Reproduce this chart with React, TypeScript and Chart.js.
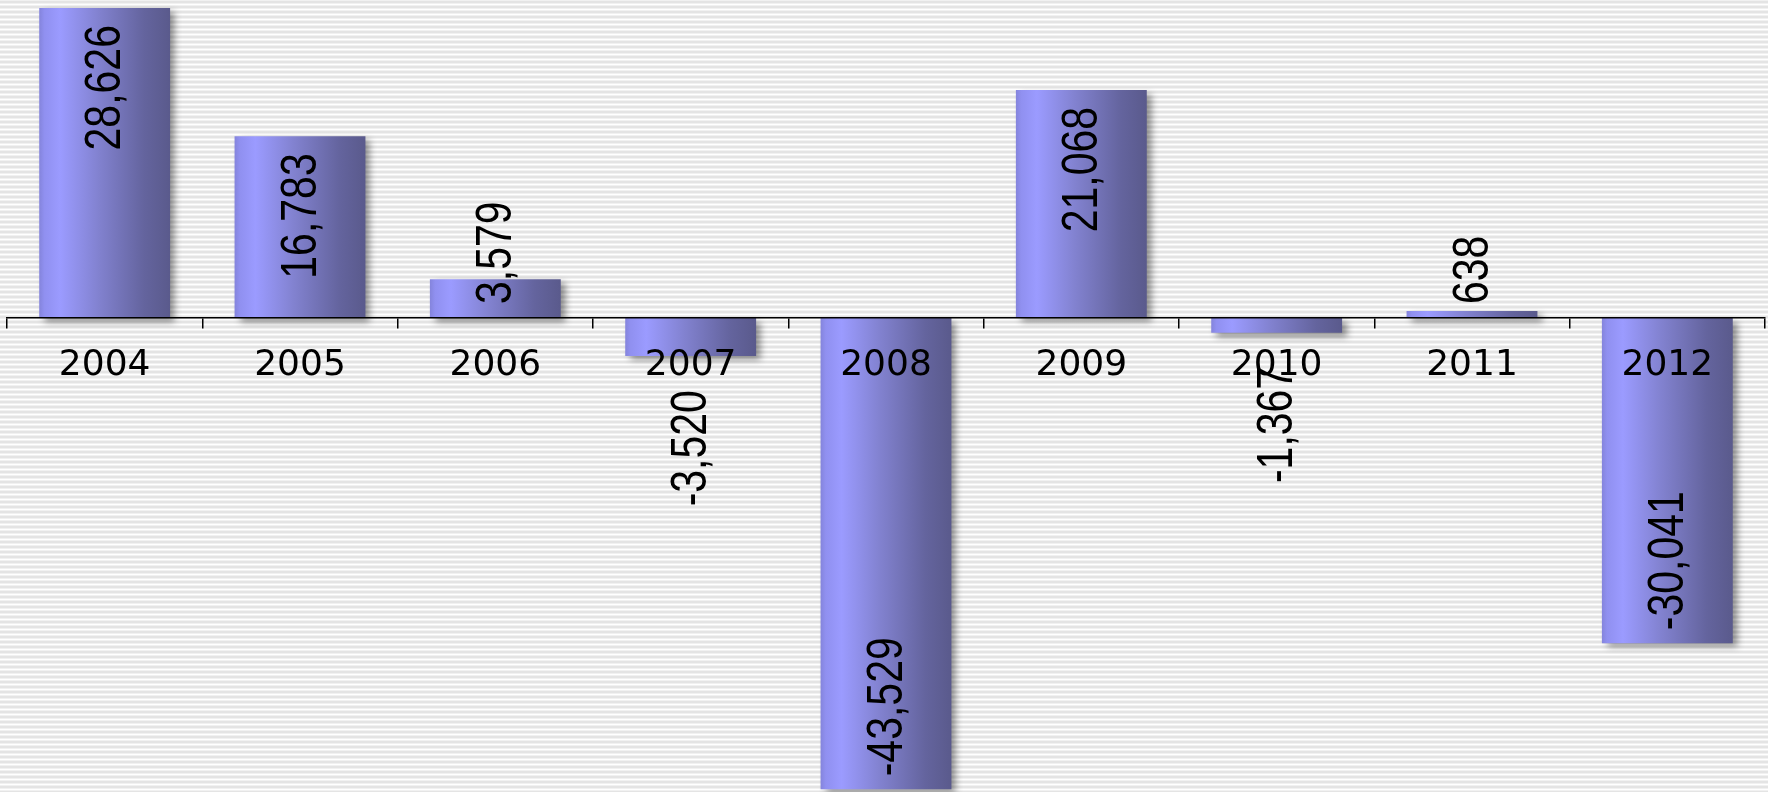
import React, { useEffect, useRef } from "react";
import { Chart, registerables } from "chart.js";

Chart.register(...registerables);

const categories = ["2004", "2005", "2006", "2007", "2008", "2009", "2010", "2011", "2012"];
const values = [28626, 16783, 3579, -3520, -43529, 21068, -1367, 638, -30041];
const yMin = -43780;
const yMax = 29370;

const stripePlugin = {
  id: "stripes",
  beforeDraw(chart: any) {
    const { ctx, width, height } = chart;
    ctx.save();
    ctx.fillStyle = "#ffffff";
    ctx.fillRect(0, 0, width, height);
    for (let y = 0; y < height; y += 5) {
      ctx.fillStyle = "#e4e4e4";
      ctx.fillRect(0, y + 1, width, 2);
      ctx.fillStyle = "#f1f1f1";
      ctx.fillRect(0, y, width, 1);
      ctx.fillRect(0, y + 3, width, 1);
    }
    ctx.restore();
  },
};

const shadowPlugin = {
  id: "barShadow",
  beforeDatasetDraw(chart: any) {
    const ctx = chart.ctx;
    ctx.save();
    ctx.shadowColor = "rgba(0,0,0,0.42)";
    ctx.shadowBlur = 7;
    ctx.shadowOffsetX = 5;
    ctx.shadowOffsetY = 4;
  },
  afterDatasetDraw(chart: any) {
    chart.ctx.restore();
  },
};

const labelPlugin = {
  id: "valueLabels",
  afterDraw(chart: any) {
    const ctx = chart.ctx;
    const meta = chart.getDatasetMeta(0);
    const zero = chart.scales.y.getPixelForValue(0);
    ctx.save();
    ctx.font = '41px "Liberation Sans", Arial, sans-serif';
    ctx.fillStyle = "#000000";
    ctx.textBaseline = "middle";
    meta.data.forEach((bar: any, i: number) => {
      const v = values[i];
      const text = v.toLocaleString("en-US");
      const len = ctx.measureText(text).width;
      const barLen = Math.abs(bar.base - bar.y);
      const fits = barLen >= len + 30;
      let anchorY: number;
      let align: CanvasTextAlign;
      if (v >= 0) {
        if (fits) {
          anchorY = bar.y + 17;
          align = "right";
        } else {
          anchorY = zero - 14;
          align = "left";
        }
      } else {
        if (fits) {
          anchorY = bar.y - 13;
          align = "left";
        } else {
          anchorY = bar.y + 34;
          align = "right";
        }
      }
      ctx.save();
      ctx.translate(bar.x + 2, anchorY);
      ctx.rotate(-Math.PI / 2);
      ctx.scale(1, 1.2);
      ctx.textAlign = align;
      ctx.fillText(text, 0, 0);
      ctx.restore();
    });
    ctx.restore();
  },
};

const barFrac = 0.67;

function barGradient(c: any) {
  const ch = c.chart;
  const xs = ch.scales && ch.scales.x;
  if (!xs || c.type !== "data") return "#8080d0";
  const cx = xs.getPixelForValue(c.dataIndex);
  const w = (xs.width / categories.length) * barFrac;
  const x0 = cx - w / 2;
  if (!isFinite(x0) || !isFinite(w) || w <= 0) return "#8080d0";
  const g = ch.ctx.createLinearGradient(x0, 0, x0 + w, 0);
  g.addColorStop(0, "#8484dc");
  g.addColorStop(0.04, "#9090f0");
  g.addColorStop(0.16, "#9b9bff");
  g.addColorStop(0.45, "#8282d0");
  g.addColorStop(0.8, "#64649e");
  g.addColorStop(1, "#5a5a8c");
  return g;
}

export default function App() {
  const ref = useRef<HTMLCanvasElement | null>(null);

  useEffect(() => {
    if (!ref.current) return;
    const chart = new Chart(ref.current, {
      type: "bar",
      data: {
        labels: categories,
        datasets: [
          {
            data: values,
            backgroundColor: barGradient,
            borderWidth: 0,
            barPercentage: 1,
            categoryPercentage: barFrac,
          },
        ],
      },
      options: {
        animation: false,
        responsive: false,
        maintainAspectRatio: false,
        devicePixelRatio: 1,
        layout: { padding: { left: 7, right: 3, top: 0, bottom: 0 } },
        plugins: {
          legend: { display: false },
          tooltip: { enabled: false },
          title: { display: false },
        },
        scales: {
          x: {
            position: { y: 0 } as any,
            offset: true,
            grid: {
              display: true,
              offset: true,
              drawOnChartArea: false,
              drawTicks: true,
              tickLength: 10,
              color: "#000000",
              lineWidth: 1.5,
              z: 1,
            },
            border: { display: true, color: "#000000", width: 1.5, z: 1 },
            ticks: {
              color: "#000000",
              padding: 16,
              maxRotation: 0,
              autoSkip: false,
              z: 1,
              font: { family: '"DejaVu Sans", sans-serif', size: 36 },
            },
          } as any,
          y: {
            display: false,
            min: yMin,
            max: yMax,
            grid: { display: false },
          },
        },
      },
      plugins: [stripePlugin, shadowPlugin, labelPlugin],
    });
    chart.update();
    return () => chart.destroy();
  }, []);

  return (
    <div style={{ position: "fixed", left: 0, top: 0, width: 1768, height: 792 }}>
      <canvas ref={ref} width={1768} height={792} style={{ width: 1768, height: 792, display: "block" }} />
    </div>
  );
}
